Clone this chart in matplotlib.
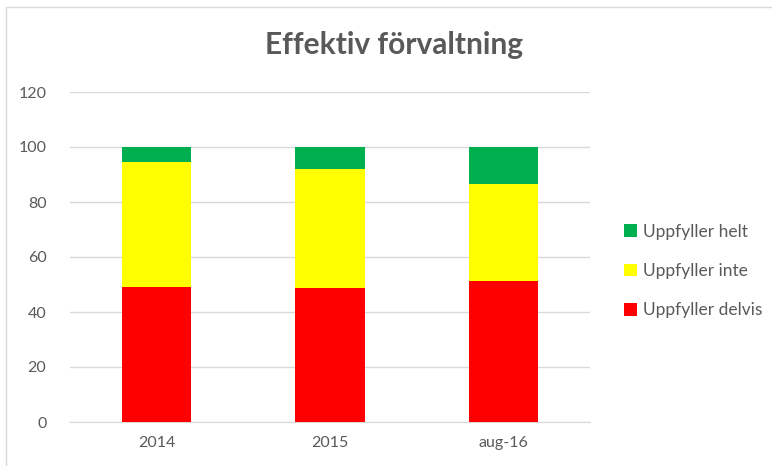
import matplotlib.pyplot as plt
from matplotlib.patches import Rectangle

# data
categories = ["2014", "2015", "aug-16"]
delvis = [49.0, 48.6, 51.4]   # Uppfyller delvis (red, bottom)
inte = [45.4, 43.3, 35.0]     # Uppfyller inte (yellow, middle)
helt = [5.6, 8.1, 13.6]       # Uppfyller helt (green, top)

plt.rcParams['font.family'] = ['Lato', 'DejaVu Sans']

fig = plt.figure(figsize=(7.72, 4.66), dpi=100)
ax = fig.add_axes([70 / 772, 1 - 422 / 466, 520 / 772, 330 / 466])

x = range(len(categories))
w = 0.4
bottom2 = [a + b for a, b in zip(delvis, inte)]
b1 = ax.bar(x, delvis, w, color="#FF0000", label="Uppfyller delvis", zorder=3)
b2 = ax.bar(x, inte, w, bottom=delvis, color="#FFFF00", label="Uppfyller inte", zorder=3)
b3 = ax.bar(x, helt, w, bottom=bottom2, color="#00B050", label="Uppfyller helt", zorder=3)

ax.set_xlim(-0.5, 2.5)
ax.set_ylim(0, 120)
ax.set_yticks(range(0, 121, 20))
ax.set_xticks(list(x))
ax.set_xticklabels(categories)
ax.grid(axis="y", color="#d9d9d9", linewidth=1, zorder=0)
for s in ["top", "right", "left"]:
    ax.spines[s].set_visible(False)
ax.spines["bottom"].set_color("#d9d9d9")
ax.tick_params(axis="both", length=0, labelsize=11.5, colors="#595959")
ax.tick_params(axis="y", pad=17)
ax.tick_params(axis="x", pad=10)

fig.text(394 / 772, 1 - 45 / 466, "Effektiv förvaltning", ha="center", va="center",
         fontsize=21.5, fontweight="bold", color="#595959")

leg = fig.legend(handles=[b3, b2, b1], loc="center left",
                 bbox_to_anchor=(608 / 772, 1 - 271 / 466), frameon=False,
                 fontsize=12.5, labelspacing=1.35, handlelength=0.75, handleheight=0.75,
                 handletextpad=0.35, labelcolor="#595959")

# light frame around the chart area
fig.patches.append(Rectangle((6 / 772, -0.1), 1.2, 1 - 7 / 466 + 0.1, transform=fig.transFigure,
                             fill=False, edgecolor="#d9d9d9", linewidth=1))

fig.savefig("out.png", dpi=100)
